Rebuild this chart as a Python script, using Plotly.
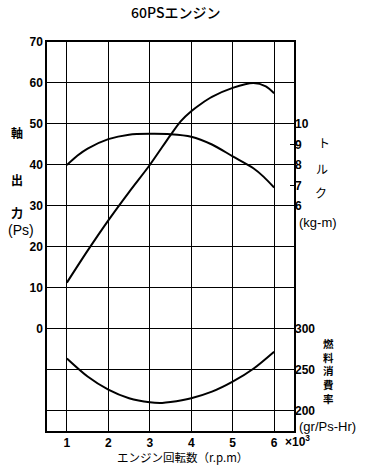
import plotly.graph_objects as go

# ---- data ----
rpm_power = [1, 1.5, 2, 2.5, 3, 3.5, 3.75, 4, 4.25, 4.5, 5, 5.5, 5.8, 6]
power_ps = [11.3, 19.1, 26.5, 33.4, 40.0, 47.3, 50.7, 53.1, 55.0, 56.6, 58.8, 60.0, 59.2, 57.5]

rpm_torque = [1, 1.25, 1.5, 2, 2.5, 3, 3.5, 4, 4.5, 5, 5.5, 5.75, 6]
torque_kgm = [8.00, 8.45, 8.80, 9.26, 9.48, 9.52, 9.50, 9.38, 9.00, 8.42, 7.84, 7.42, 6.90]

rpm_fuel = [1, 1.5, 2, 2.5, 3, 3.3, 3.5, 4, 4.5, 5, 5.5, 6]
fuel_gpsh = [264, 242, 226, 215.5, 210.5, 209.8, 210.8, 215.5, 223.5, 235.7, 251.5, 272.3]

x_ticks = [1, 2, 3, 4, 5, 6]
x_ticklabels = ["1", "2", "3", "4", "5", "6"]
power_ticks = [0, 10, 20, 30, 40, 50, 60, 70]
torque_ticks = [6, 7, 8, 9, 10]
fuel_ticks = [200, 250, 300]

# ---- layout geometry (pixels) ----
W, H = 365, 465
L, R, T, B = 47, 71, 42, 34
PX0, PX1, PY0, PY1 = L, W - R, T, H - B

JP = "Noto Sans CJK JP"
NUM = "Liberation Sans"
TF = dict(family=NUM, size=12, color="black", weight="bold")


def ann(text, px, py, size=12, family=JP, xanchor="center", yanchor="middle", weight="normal"):
    return dict(
        text=text, xref="paper", yref="paper",
        x=(px - PX0) / (PX1 - PX0), y=(PY1 - py) / (PY1 - PY0),
        xanchor=xanchor, yanchor=yanchor, showarrow=False,
        font=dict(family=family, size=size, color="black", weight=weight),
    )


fig = go.Figure()
line = dict(color="black", width=2, shape="spline", smoothing=0.8)
fig.add_trace(go.Scatter(x=rpm_power, y=power_ps, mode="lines", line=line, yaxis="y"))
fig.add_trace(go.Scatter(x=rpm_torque, y=torque_kgm, mode="lines", line=line, yaxis="y2"))
fig.add_trace(go.Scatter(x=rpm_fuel, y=fuel_gpsh, mode="lines", line=line, yaxis="y3"))

p_lo, p_hi = -24.9, 70
fig.update_layout(
    width=W, height=H,
    margin=dict(l=L, r=R, t=T, b=B, pad=0, autoexpand=False),
    paper_bgcolor="white", plot_bgcolor="white",
    showlegend=False,
    font=dict(family=NUM, size=12, color="black"),
    xaxis=dict(
        range=[0.52, 6.48], tickvals=x_ticks, ticktext=x_ticklabels,
        showgrid=True, gridcolor="black", gridwidth=1,
        showline=True, linecolor="black", linewidth=1.5, mirror=True,
        ticks="", zeroline=False, tickfont=TF, automargin=False,
    ),
    yaxis=dict(
        range=[p_lo, p_hi], tickvals=power_ticks,
        showgrid=True, gridcolor="black", gridwidth=1,
        showline=True, linecolor="black", linewidth=1.5, mirror=True,
        ticks="", zeroline=False, tickfont=TF, automargin=False,
    ),
    yaxis2=dict(
        overlaying="y", side="right",
        range=[6 + (p_lo - 30) / 5, 6 + (p_hi - 30) / 5],
        tickvals=torque_ticks, ticks="inside", ticklen=4, tickcolor="black",
        showgrid=False, zeroline=False, showline=False,
        tickfont=TF, automargin=False,
    ),
    yaxis3=dict(
        overlaying="y", side="right",
        range=[300 + 5 * p_lo, 300 + 5 * p_hi],
        tickvals=fuel_ticks, ticks="", showgrid=True, gridcolor="black", gridwidth=1,
        zeroline=False, showline=False,
        tickfont=TF, automargin=False,
    ),
    annotations=[
        ann("60PSエンジン", 175, 12, size=14, weight=500),
        ann("軸", 17, 132, weight="bold"), ann("出", 17, 180, weight="bold"),
        ann("力", 17, 212, weight="bold"),
        ann("(Ps)", 21, 230, family=NUM, size=14),
        ann("ト", 324, 142), ann("ル", 322, 168), ann("ク", 321, 192),
        ann("(kg-m)", 318, 222, family=NUM, size=13),
        ann("燃<br>料<br>消<br>費<br>率", 328, 371, size=10.5, weight="bold"),
        ann("(gr/Ps-Hr)", 297, 426, family=NUM, size=13, xanchor="left"),
        ann("×10<sup>3</sup>", 283, 441, family=NUM, size=12, xanchor="left", weight="bold"),
        ann("エンジン回転数（r.p.m）", 182, 456.5, size=11.5),
    ],
)

fig.write_html(
    "out.html",
    config={"displayModeBar": False},
    post_script="document.body.style.margin='0';document.body.style.overflow='hidden';",
)
